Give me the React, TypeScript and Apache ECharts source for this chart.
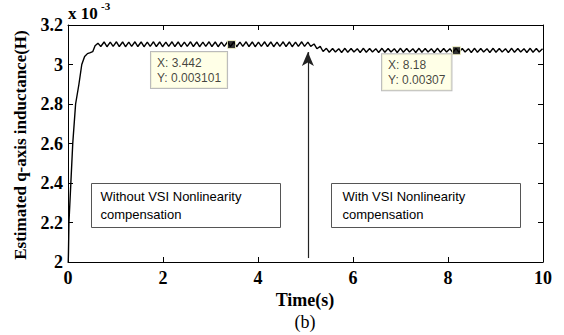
import React, { useEffect, useRef } from "react";
import * as echarts from "echarts";

// Estimated q-axis inductance, in units of 1e-3 H
const riseTime = [0.005, 0.01, 0.02, 0.06, 0.1, 0.16, 0.23, 0.29, 0.35, 0.41, 0.47, 0.52, 0.57];
const riseValue = [2.0, 2.05, 2.2, 2.4, 2.6, 2.8, 2.9, 3.0, 3.04, 3.055, 3.06, 3.065, 3.095];

const ripple1Time = [
  0.63, 0.69, 0.76, 0.82, 0.89, 0.95, 1.02, 1.08, 1.15, 1.21,
  1.28, 1.34, 1.41, 1.47, 1.54, 1.6, 1.67, 1.73, 1.8, 1.86,
  1.93, 1.99, 2.06, 2.12, 2.19, 2.25, 2.32, 2.38, 2.45, 2.51,
  2.58, 2.64, 2.71, 2.77, 2.84, 2.9, 2.97, 3.03, 3.1, 3.16,
  3.23, 3.29, 3.36, 3.42, 3.49, 3.55, 3.62, 3.68, 3.75, 3.81,
  3.88, 3.94, 4.01, 4.07, 4.14, 4.2, 4.27, 4.33, 4.4, 4.46,
  4.53, 4.59, 4.66, 4.72, 4.79, 4.85, 4.92, 4.98,
];
const ripple1Value = [
  3.108, 3.091, 3.114, 3.090, 3.113, 3.092, 3.115, 3.091, 3.114, 3.090,
  3.113, 3.092, 3.115, 3.091, 3.114, 3.090, 3.113, 3.092, 3.115, 3.091,
  3.114, 3.090, 3.113, 3.092, 3.115, 3.091, 3.114, 3.090, 3.113, 3.092,
  3.115, 3.091, 3.114, 3.090, 3.113, 3.092, 3.115, 3.091, 3.114, 3.090,
  3.113, 3.092, 3.115, 3.091, 3.114, 3.090, 3.113, 3.092, 3.115, 3.091,
  3.114, 3.090, 3.113, 3.092, 3.115, 3.091, 3.114, 3.090, 3.113, 3.092,
  3.115, 3.091, 3.114, 3.090, 3.113, 3.092, 3.115, 3.092,
];

const transitionTime = [5.05, 5.11, 5.18, 5.24, 5.31, 5.37, 5.44];
const transitionValue = [3.113, 3.092, 3.104, 3.080, 3.092, 3.066, 3.082];

const ripple2Time = [
  5.5, 5.57, 5.63, 5.7, 5.76, 5.83, 5.89, 5.96, 6.02, 6.09,
  6.15, 6.22, 6.28, 6.35, 6.41, 6.48, 6.54, 6.61, 6.67, 6.74,
  6.8, 6.87, 6.93, 7.0, 7.06, 7.13, 7.19, 7.26, 7.32, 7.39,
  7.45, 7.52, 7.58, 7.65, 7.71, 7.78, 7.84, 7.91, 7.97, 8.04,
  8.1, 8.17, 8.23, 8.3, 8.36, 8.43, 8.49, 8.56, 8.62, 8.69,
  8.75, 8.82, 8.88, 8.95, 9.01, 9.08, 9.14, 9.21, 9.27, 9.34,
  9.4, 9.47, 9.53, 9.6, 9.66, 9.73, 9.79, 9.86, 9.92, 9.99,
];
const ripple2Value = [
  3.062, 3.081, 3.063, 3.080, 3.061, 3.082, 3.062, 3.081, 3.063, 3.080,
  3.061, 3.082, 3.062, 3.081, 3.063, 3.080, 3.061, 3.082, 3.062, 3.081,
  3.063, 3.080, 3.061, 3.082, 3.062, 3.081, 3.063, 3.080, 3.061, 3.082,
  3.062, 3.081, 3.063, 3.080, 3.061, 3.082, 3.062, 3.081, 3.063, 3.080,
  3.061, 3.082, 3.062, 3.081, 3.063, 3.080, 3.061, 3.082, 3.062, 3.081,
  3.063, 3.080, 3.061, 3.082, 3.062, 3.081, 3.063, 3.080, 3.061, 3.082,
  3.062, 3.081, 3.063, 3.080, 3.061, 3.082, 3.062, 3.081, 3.063, 3.080,
];

// Data tips
const tipTime = [3.442, 8.18];
const tipValue = [3.101, 3.07];
const tipXText = ["3.442", "8.18"];
const tipYText = ["0.003101", "0.00307"];

// Arrow marking the switch
const arrowTime = 5.05;
const arrowFrom = 2.02;
const arrowTo = 3.063;

const xTicks = { min: 0, max: 10, interval: 2 };
const yTicks = { min: 2, max: 3.2, interval: 0.2 };

const serif = "'Liberation Serif', 'Times New Roman', serif";
const sans = "'Liberation Sans', Arial, sans-serif";

export default function App() {
  const ref = useRef<HTMLDivElement>(null);

  useEffect(() => {
    if (!ref.current) return;
    const chart = echarts.init(ref.current, undefined, { renderer: "svg" });

    const times = [...riseTime, ...ripple1Time, ...transitionTime, ...ripple2Time];
    const values = [...riseValue, ...ripple1Value, ...transitionValue, ...ripple2Value];
    const lineData = times.map((t, i) => [t, values[i]]);

    const tipPositions = [
      [-76, 12],
      [-70, 8],
    ];
    const tipData = tipTime.map((t, i) => ({
      value: [t, tipValue[i]],
      label: {
        position: tipPositions[i],
        formatter: `X: ${tipXText[i]}\nY: ${tipYText[i]}`,
      },
    }));

    const baseX = {
      type: "value" as const,
      min: xTicks.min,
      max: xTicks.max,
      interval: xTicks.interval,
      splitLine: { show: false },
      axisLine: { show: true, onZero: false, lineStyle: { color: "#000", width: 1 } },
      axisTick: { show: true, inside: true, length: 5, lineStyle: { color: "#000" } },
    };
    const baseY = {
      type: "value" as const,
      min: yTicks.min,
      max: yTicks.max,
      interval: yTicks.interval,
      splitLine: { show: false },
      axisLine: { show: true, onZero: false, lineStyle: { color: "#000", width: 1 } },
      axisTick: { show: true, inside: true, length: 5, lineStyle: { color: "#000" } },
    };

    chart.setOption({
      animation: false,
      backgroundColor: "#fff",
      grid: { left: 68, right: 21, top: 25, bottom: 73, containLabel: false },
      xAxis: [
        {
          ...baseX,
          position: "bottom",
          axisLabel: {
            show: true,
            margin: 7,
            color: "#000",
            fontFamily: serif,
            fontWeight: "bold",
            fontSize: 18,
          },
        },
        { ...baseX, position: "top", axisLabel: { show: false } },
      ],
      yAxis: [
        {
          ...baseY,
          position: "left",
          axisLabel: {
            show: true,
            margin: 5,
            color: "#000",
            fontFamily: serif,
            fontWeight: "bold",
            fontSize: 18,
            formatter: (v: number) => String(+v.toFixed(1)),
          },
        },
        { ...baseY, position: "right", axisLabel: { show: false } },
      ],
      series: [
        {
          type: "line",
          data: lineData,
          showSymbol: false,
          symbol: "none",
          lineStyle: { color: "#000", width: 1.4 },
          z: 3,
          markLine: {
            silent: true,
            symbol: ["none", "arrow"],
            symbolSize: [9, 14],
            label: { show: false },
            lineStyle: { color: "#222", width: 1.2, type: "solid" },
            data: [[{ coord: [arrowTime, arrowFrom] }, { coord: [arrowTime, arrowTo] }]],
          },
        },
        {
          type: "scatter",
          data: tipData,
          symbol: "rect",
          symbolSize: 8,
          itemStyle: { color: "#000", borderColor: "#ffffcc", borderWidth: 1 },
          z: 5,
          label: {
            show: true,
            align: "left",
            verticalAlign: "top",
            fontFamily: sans,
            fontSize: 12,
            lineHeight: 15,
            color: "#111",
            backgroundColor: "#ffffe1",
            borderColor: "#aaa",
            borderWidth: 1,
            padding: [3, 6, 3, 6],
          },
        },
      ],
      graphic: [
        {
          type: "text",
          left: 68,
          top: 5,
          style: { text: "x 10", font: `bold 17px ${serif}`, fill: "#000" },
        },
        {
          type: "text",
          left: 101,
          top: 0,
          style: { text: "-3", font: `bold 11px ${serif}`, fill: "#000" },
        },
        {
          type: "text",
          x: 20,
          y: 145,
          rotation: Math.PI / 2,
          style: {
            text: "Estimated q-axis inductance(H)",
            font: `bold 17px ${serif}`,
            fill: "#000",
            align: "center",
            verticalAlign: "middle",
          },
        },
        {
          type: "text",
          x: 305,
          y: 300,
          style: {
            text: "Time(s)",
            font: `bold 18px ${serif}`,
            fill: "#000",
            align: "center",
            verticalAlign: "middle",
          },
        },
        {
          type: "text",
          x: 305,
          y: 322,
          style: {
            text: "(b)",
            font: `18px ${serif}`,
            fill: "#000",
            align: "center",
            verticalAlign: "middle",
          },
        },
        {
          type: "group",
          left: 91,
          top: 183,
          children: [
            {
              type: "rect",
              shape: { x: 0, y: 0, width: 189, height: 44 },
              style: { fill: "#fff", stroke: "#555", lineWidth: 1 },
            },
            {
              type: "text",
              x: 9,
              y: 4,
              style: {
                text: "Without VSI Nonlinearity\ncompensation",
                font: `13px ${sans}`,
                lineHeight: 18,
                fill: "#000",
              },
            },
          ],
        },
        {
          type: "group",
          left: 331,
          top: 183,
          children: [
            {
              type: "rect",
              shape: { x: 0, y: 0, width: 189, height: 44 },
              style: { fill: "#fff", stroke: "#555", lineWidth: 1 },
            },
            {
              type: "text",
              x: 11,
              y: 4,
              style: {
                text: "With VSI Nonlinearity\ncompensation",
                font: `13px ${sans}`,
                lineHeight: 18,
                fill: "#000",
              },
            },
          ],
        },
      ],
    });

    return () => chart.dispose();
  }, []);

  return (
    <div
      ref={ref}
      style={{ position: "fixed", left: 0, top: 0, width: 564, height: 335, background: "#fff" }}
    />
  );
}
